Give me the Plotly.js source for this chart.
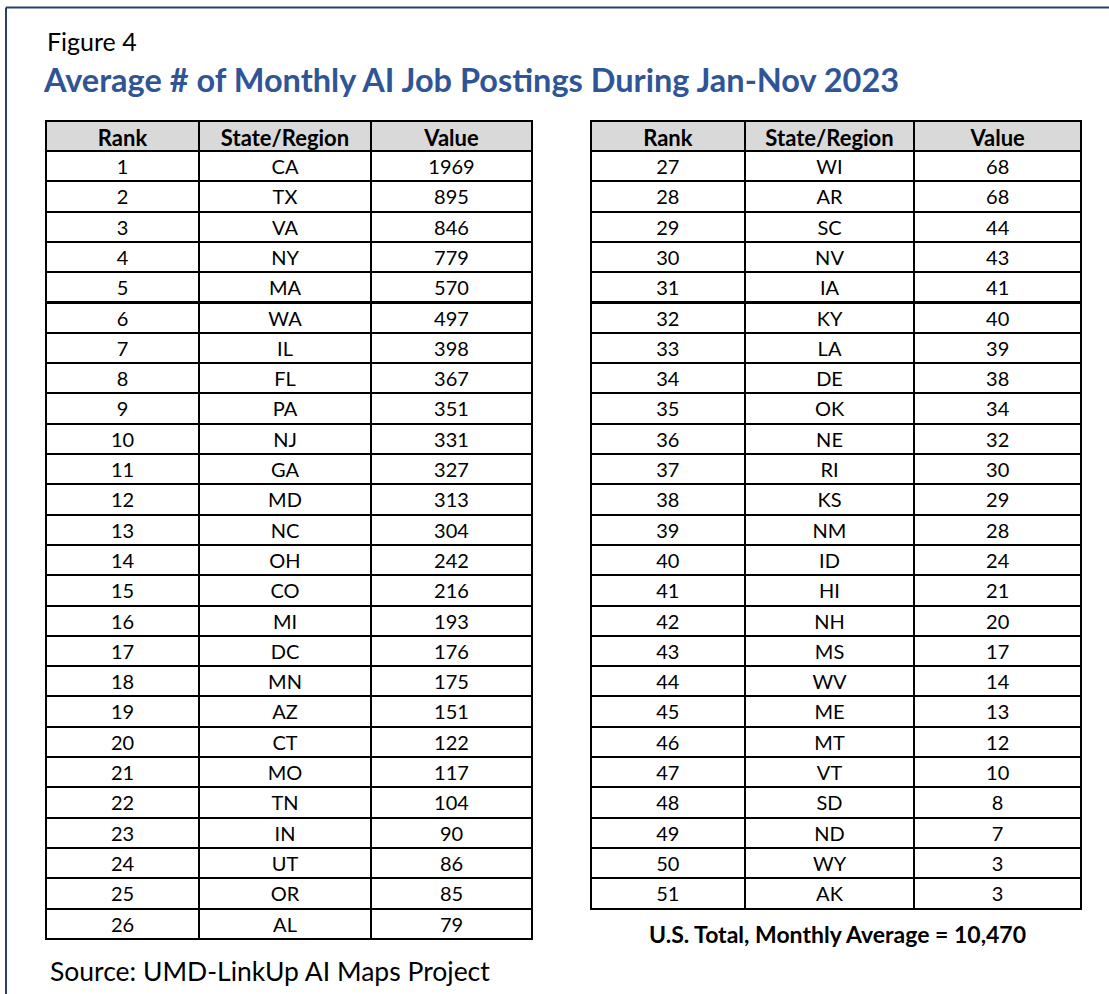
<!DOCTYPE html>
<html>
<head>
<meta charset="utf-8">
<script src="https://cdn.plot.ly/plotly-3.0.1.min.js"></script>
<style>
html,body{margin:0;padding:0;background:#fff;}
#chart{width:1109px;height:994px;}
</style>
</head>
<body>
<div id="chart"></div>
<script>
const headers = ['Rank', 'State/Region', 'Value'];

const ranksLeft = [1,2,3,4,5,6,7,8,9,10,11,12,13,14,15,16,17,18,19,20,21,22,23,24,25,26];
const statesLeft = ['CA','TX','VA','NY','MA','WA','IL','FL','PA','NJ','GA','MD','NC','OH','CO','MI','DC','MN','AZ','CT','MO','TN','IN','UT','OR','AL'];
const valuesLeft = [1969,895,846,779,570,497,398,367,351,331,327,313,304,242,216,193,176,175,151,122,117,104,90,86,85,79];

const ranksRight = [27,28,29,30,31,32,33,34,35,36,37,38,39,40,41,42,43,44,45,46,47,48,49,50,51];
const statesRight = ['WI','AR','SC','NV','IA','KY','LA','DE','OK','NE','RI','KS','NM','ID','HI','NH','MS','WV','ME','MT','VT','SD','ND','WY','AK'];
const valuesRight = [68,68,44,43,41,40,39,38,34,32,30,29,28,24,21,20,17,14,13,12,10,8,7,3,3];

const figureLabel = 'Figure 4';
const titleText = 'Average # of Monthly AI Job Postings During Jan-Nov 2023';
const totalText = 'U.S. Total, Monthly Average = 10,470';
const sourceText = 'Source: UMD-LinkUp AI Maps Project';

const W = 1109, H = 994;
const FONT = 'Lato, "Open Sans", sans-serif';
const px = v => v / W;
const py = v => 1 - v / H;

function makeTable(ranks, states, values, x0, x1, y0, y1, colw) {
  return {
    type: 'table',
    domain: {x: [px(x0), px(x1)], y: [py(y1), py(y0)]},
    columnwidth: colw,
    header: {
      values: headers,
      align: 'center',
      height: 30,
      fill: {color: '#d9d9d9'},
      line: {color: '#000000', width: 2},
      font: {family: FONT, size: 22, weight: 'bold', color: '#000000'}
    },
    cells: {
      values: [ranks, states, values],
      align: 'center',
      height: 30.3,
      fill: {color: '#ffffff'},
      line: {color: '#000000', width: 2},
      font: {family: FONT, size: 20, color: '#000000'}
    }
  };
}

const data = [
  makeTable(ranksLeft, statesLeft, valuesLeft, 46, 532, 121, 960, [153, 172, 161]),
  makeTable(ranksRight, statesRight, valuesRight, 591, 1082, 121, 960, [154, 170, 167])
];

const layout = {
  width: W,
  height: H,
  margin: {l: 0, r: 0, t: 0, b: 0},
  paper_bgcolor: '#ffffff',
  showlegend: false,
  shapes: [
    {type: 'line', xref: 'paper', yref: 'paper', x0: px(6), x1: 1.05, y0: py(7.5), y1: py(7.5),
     line: {color: '#2b3f6c', width: 2}},
    {type: 'line', xref: 'paper', yref: 'paper', x0: px(6), x1: px(6), y0: py(7.5), y1: -0.05,
     line: {color: '#2b3f6c', width: 2}}
  ],
  annotations: [
    {text: figureLabel, xref: 'paper', yref: 'paper', x: px(45), y: py(41), xanchor: 'left', yanchor: 'middle',
     showarrow: false, font: {family: FONT, size: 25, color: '#000000'}},
    {text: '<b>' + titleText + '</b>', xref: 'paper', yref: 'paper', x: px(41), y: py(80), xanchor: 'left', yanchor: 'middle',
     showarrow: false, font: {family: FONT, size: 32.5, color: '#2f5597'}},
    {text: '<b>' + totalText + '</b>', xref: 'paper', yref: 'paper', x: px(837), y: py(934), xanchor: 'center', yanchor: 'middle',
     showarrow: false, font: {family: FONT, size: 23, color: '#000000'}},
    {text: sourceText, xref: 'paper', yref: 'paper', x: px(48), y: py(971), xanchor: 'left', yanchor: 'middle',
     showarrow: false, font: {family: FONT, size: 26.5, color: '#000000'}}
  ]
};

Plotly.newPlot('chart', data, layout, {staticPlot: true, displayModeBar: false});
</script>
</body>
</html>
